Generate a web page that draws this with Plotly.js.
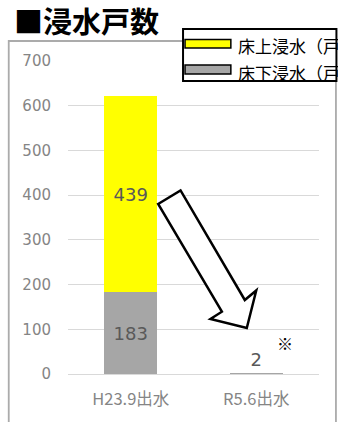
<!DOCTYPE html>
<html>
<head>
<meta charset="utf-8">
<script src="https://cdn.plot.ly/plotly-3.0.1.min.js"></script>
<style>html,body{margin:0;padding:0;background:#fff;}#chart{width:338px;height:422px;}</style>
</head>
<body>
<div id="chart"></div>
<script>
// ---- data ----
const categories = ['H23.9出水', 'R5.6出水'];
const seriesNames = ['床上浸水（戸数）', '床下浸水（戸数）'];
const yukaUe = [439, 0];      // 床上浸水
const yukaShita = [183, 2];   // 床下浸水
const yTicks = [0, 100, 200, 300, 400, 500, 600, 700];
const chartTitle = '■浸水戸数';
const noteMark = '※';

// ---- layout helpers (pixel -> paper) ----
const W = 338, H = 422;
const L = 67.5, R = 18.5, T = 61, B = 48;
const pw = W - L - R, ph = H - T - B;
const px = x => (x - L) / pw;
const py = y => (H - B - y) / ph;

const FONT = '"Noto Sans CJK JP", "Noto Sans", sans-serif';
const NUMFONT = '"DejaVu Sans", sans-serif';
const YELLOW = '#ffff00', GRAY = '#a6a6a6';

const traces = [
  {
    type: 'bar', name: seriesNames[1], x: categories, y: yukaShita,
    marker: {color: GRAY},
    text: yukaShita.map(v => v ? String(v) : ''),
    textposition: ['inside', 'outside'],
    insidetextanchor: 'middle',
    textfont: {family: NUMFONT, size: 18, color: '#595959'},
    outsidetextfont: {family: NUMFONT, size: 18, color: '#595959'},
    cliponaxis: false,
    width: 0.42, showlegend: false, hoverinfo: 'none'
  },
  {
    type: 'bar', name: seriesNames[0], x: categories, y: yukaUe,
    marker: {color: YELLOW},
    text: yukaUe.map(v => v ? String(v) : ''),
    textposition: 'inside',
    insidetextanchor: 'middle',
    textfont: {family: NUMFONT, size: 18, color: '#595959'},
    width: 0.42, showlegend: false, hoverinfo: 'none'
  }
];

// hollow arrow outline (pixel positions converted to paper)
const arrowPts = [[158,204],[180.5,190.5],[245,300],[256.5,290.5],[247,328],[210.5,319],[222,311.7]];
const arrowPath = 'M' + arrowPts.map(p => px(p[0]).toFixed(4) + ',' + py(p[1]).toFixed(4)).join(' L') + ' Z';

const shapes = [
  // outer frame
  {type: 'rect', xref: 'paper', yref: 'paper', x0: px(8), x1: px(336.5), y0: py(41), y1: py(440),
   line: {color: '#ababab', width: 1.8}, fillcolor: 'rgba(0,0,0,0)', layer: 'below'},
  // arrow
  {type: 'path', xref: 'paper', yref: 'paper', path: arrowPath,
   line: {color: '#000', width: 2.5}, fillcolor: '#fff', layer: 'above'},
  // legend box
  {type: 'rect', xref: 'paper', yref: 'paper', x0: px(183), x1: px(337), y0: py(29), y1: py(81),
   line: {color: '#000', width: 2}, fillcolor: '#fff', layer: 'above'},
  {type: 'rect', xref: 'paper', yref: 'paper', x0: px(185), x1: px(231), y0: py(39.5), y1: py(48),
   line: {color: '#000', width: 1.5}, fillcolor: YELLOW, layer: 'above'},
  {type: 'rect', xref: 'paper', yref: 'paper', x0: px(185), x1: px(231), y0: py(65), y1: py(74),
   line: {color: '#000', width: 1.5}, fillcolor: GRAY, layer: 'above'}
];

const annotations = [
  {xref: 'paper', yref: 'paper', x: px(236), y: py(45.5), xanchor: 'left', yanchor: 'middle',
   text: seriesNames[0], showarrow: false, font: {family: FONT, size: 17, color: '#000'}},
  {xref: 'paper', yref: 'paper', x: px(236), y: py(72), xanchor: 'left', yanchor: 'middle',
   text: seriesNames[1], showarrow: false, font: {family: FONT, size: 17, color: '#000'}},
  {xref: 'paper', yref: 'paper', x: px(285), y: py(343), xanchor: 'center', yanchor: 'middle',
   text: noteMark, showarrow: false, font: {family: FONT, size: 16, color: '#000'}}
];

const layout = {
  width: W, height: H,
  margin: {l: L, r: R, t: T, b: B, autoexpand: false},
  paper_bgcolor: '#fff', plot_bgcolor: '#fff',
  barmode: 'stack',
  showlegend: false,
  title: {text: chartTitle, xref: 'container', yref: 'container', x: 14 / W, xanchor: 'left',
          y: 1 - 23 / H, yanchor: 'middle',
          font: {family: FONT, size: 29, color: '#000', weight: 'bold'}},
  xaxis: {type: 'category', range: [-0.5, 1.5], showgrid: false, showline: false, zeroline: false,
          ticks: '', ticklabelstandoff: 13,
          tickfont: {family: FONT, size: 16.5, color: '#858585'}},
  yaxis: {range: [0, 700], tickvals: yTicks, ticktext: yTicks.map(String),
          showgrid: true, gridcolor: '#d9d9d9', gridwidth: 1,
          zeroline: true, zerolinecolor: '#d9d9d9', zerolinewidth: 1, showline: false,
          ticks: '', ticklabelstandoff: 16,
          tickfont: {family: NUMFONT, size: 15, color: '#858585'}},
  shapes: shapes,
  annotations: annotations
};

Plotly.newPlot('chart', traces, layout, {displayModeBar: false, staticPlot: true});
</script>
</body>
</html>
